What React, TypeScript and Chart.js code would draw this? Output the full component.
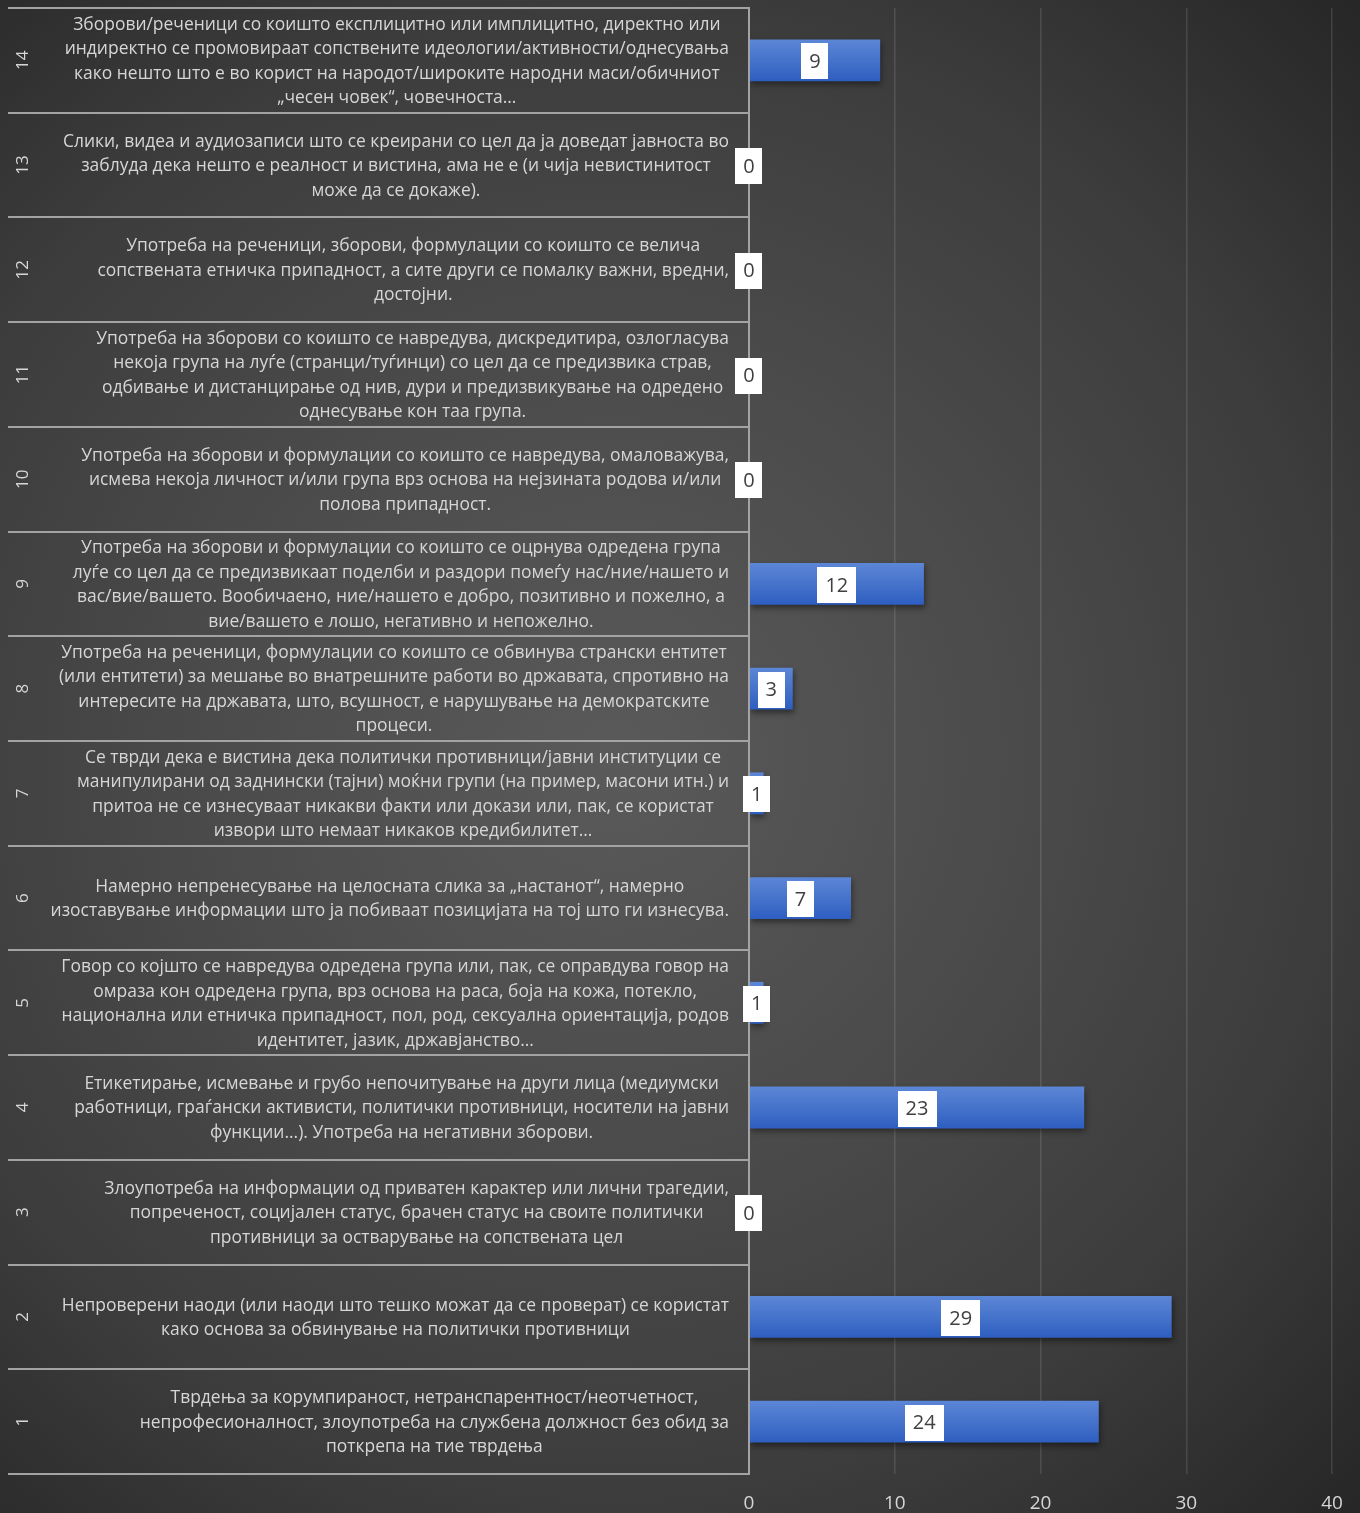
import { useEffect, useRef } from 'react';
import { Chart, registerables } from 'chart.js';

Chart.register(...registerables);

const categoryNumbers: string[] = ['1', '2', '3', '4', '5', '6', '7', '8', '9', '10', '11', '12', '13', '14'];

const categoryTexts: string[][] = [
  [
    'Тврдења за корумпираност, нетранспарентност/неотчетност,',
    'непрофесионалност, злоупотреба на службена должност без обид за',
    'поткрепа на тие тврдења',
  ],
  [
    'Непроверени наоди (или наоди што тешко можат да се проверат) се користат',
    'како основа за обвинување на политички противници',
  ],
  [
    'Злоупотреба на информации од приватен карактер или лични трагедии,',
    'попреченост, социјален статус, брачен статус на своите политички',
    'противници за остварување на сопствената цел',
  ],
  [
    'Етикетирање, исмевање и грубо непочитување на други лица (медиумски',
    'работници, граѓански активисти, политички противници, носители на јавни',
    'функции...). Употреба на негативни зборови.',
  ],
  [
    'Говор со којшто се навредува одредена група или, пак, се оправдува говор на',
    'омраза кон одредена група, врз основа на раса, боја на кожа, потекло,',
    'национална или етничка припадност, пол, род, сексуална ориентација, родов',
    'идентитет, јазик, државјанство…',
  ],
  [
    'Намерно непренесување на целосната слика за „настанот“, намерно',
    'изоставување информации што ја побиваат позицијата на тој што ги изнесува.',
  ],
  [
    'Се тврди дека е вистина дека политички противници/јавни институции се',
    'манипулирани од заднински (тајни) моќни групи (на пример, масони итн.) и',
    'притоа не се изнесуваат никакви факти или докази или, пак, се користат',
    'извори што немаат никаков кредибилитет…',
  ],
  [
    'Употреба на реченици, формулации со коишто се обвинува странски ентитет',
    '(или ентитети) за мешање во внатрешните работи во државата, спротивно на',
    'интересите на државата, што, всушност, е нарушување на демократските',
    'процеси.',
  ],
  [
    'Употреба на зборови и формулации со коишто се оцрнува одредена група',
    'луѓе со цел да се предизвикаат поделби и раздори помеѓу нас/ние/нашето и',
    'вас/вие/вашето. Вообичаено, ние/нашето е добро, позитивно и пожелно, а',
    'вие/вашето е лошо, негативно и непожелно.',
  ],
  [
    'Употреба на зборови и формулации со коишто се навредува, омаловажува,',
    'исмева некоја личност и/или група врз основа на нејзината родова и/или',
    'полова припадност.',
  ],
  [
    'Употреба на зборови со коишто се навредува, дискредитира, озлогласува',
    'некоја група на луѓе (странци/туѓинци) со цел да се предизвика страв,',
    'одбивање и дистанцирање од нив, дури и предизвикување на одредено',
    'однесување кон таа група.',
  ],
  [
    'Употреба на реченици, зборови, формулации со коишто се велича',
    'сопствената етничка припадност, а сите други се помалку важни, вредни,',
    'достојни.',
  ],
  [
    'Слики, видеа и аудиозаписи што се креирани со цел да ја доведат јавноста во',
    'заблуда дека нешто е реалност и вистина, ама не е (и чија невистинитост',
    'може да се докаже).',
  ],
  [
    'Зборови/реченици со коишто експлицитно или имплицитно, директно или',
    'индиректно се промовираат сопствените идеологии/активности/однесувања',
    'како нешто што е во корист на народот/широките народни маси/обичниот',
    '„чесен човек“, човечноста…',
  ],
];

const counts: number[] = [24, 29, 0, 23, 1, 7, 1, 3, 12, 0, 0, 0, 0, 9];

const xMin = 0;
const xMax = 40;
const xStep = 10;

const FONT = '"Open Sans", "Noto Sans", sans-serif';
const TEXT_COLOR = '#d6d6d6';
const LABEL_FONT_SIZE = 17.45;
const LABEL_LINE_HEIGHT = 24.5;

// Category text labels: each block is right-aligned against the axis, lines centred inside the block
const categoryTextPlugin = {
  id: 'categoryText',
  afterDraw(chart: any) {
    const { ctx, chartArea } = chart;
    const ys = chart.scales.y;
    ctx.save();
    ctx.font = `${LABEL_FONT_SIZE}px ${FONT}`;
    ctx.fillStyle = TEXT_COLOR;
    ctx.textAlign = 'center';
    ctx.textBaseline = 'middle';
    const rightEdge = chartArea.left - 20;
    categoryTexts.forEach((lines, i) => {
      const cy = ys.getPixelForValue(i);
      let w = 0;
      for (const l of lines) w = Math.max(w, ctx.measureText(l).width);
      const cx = rightEdge - w / 2;
      const n = lines.length;
      lines.forEach((l, k) => {
        ctx.fillText(l, cx, cy + (k - (n - 1) / 2) * LABEL_LINE_HEIGHT + 1);
      });
    });
    ctx.restore();
  },
};

const sectionPlugin = {
  id: 'sectionLines',
  afterDraw(chart: any) {
    const { ctx, chartArea } = chart;
    const ys = chart.scales.y;
    const n = categoryNumbers.length;
    const pix: number[] = [];
    for (let i = 0; i < n; i++) pix.push(ys.getPixelForValue(i));
    pix.sort((a, b) => a - b);
    const bounds: number[] = [chartArea.top];
    for (let i = 0; i < n - 1; i++) bounds.push((pix[i] + pix[i + 1]) / 2);
    bounds.push(chartArea.bottom);
    ctx.save();
    ctx.strokeStyle = '#a3a3a3';
    ctx.lineWidth = 2;
    ctx.beginPath();
    for (const b of bounds) {
      const yy = Math.round(b);
      ctx.moveTo(8, yy);
      ctx.lineTo(chartArea.left, yy);
    }
    ctx.moveTo(chartArea.left, chartArea.top - 1);
    ctx.lineTo(chartArea.left, chartArea.bottom + 1);
    ctx.stroke();
    ctx.restore();
  },
};

const shadowPlugin = {
  id: 'barShadow',
  beforeDatasetsDraw(chart: any) {
    const ctx = chart.ctx;
    ctx.save();
    ctx.shadowColor = 'rgba(0,0,0,0.45)';
    ctx.shadowBlur = 6;
    ctx.shadowOffsetX = 1;
    ctx.shadowOffsetY = 3;
  },
  afterDatasetsDraw(chart: any) {
    chart.ctx.restore();
  },
};

const valueLabelPlugin = {
  id: 'valueLabels',
  afterDraw(chart: any) {
    const ctx = chart.ctx;
    const meta = chart.getDatasetMeta(0);
    ctx.save();
    ctx.font = `20px ${FONT}`;
    ctx.textAlign = 'center';
    ctx.textBaseline = 'middle';
    meta.data.forEach((bar: any, i: number) => {
      const text = String(counts[i]);
      const cx = (bar.x + bar.base) / 2;
      const cy = bar.y;
      const w = ctx.measureText(text).width + 16;
      const h = 36;
      ctx.fillStyle = '#ffffff';
      ctx.fillRect(Math.round(cx - w / 2), Math.round(cy - h / 2) + 1, Math.round(w), h);
      ctx.fillStyle = '#404040';
      ctx.fillText(text, cx, cy + 2);
    });
    ctx.restore();
  },
};

const zeroPad = (s: any) => {
  s.paddingTop = 0;
  s.paddingBottom = 0;
};

export default function App() {
  const canvasRef = useRef<HTMLCanvasElement | null>(null);

  useEffect(() => {
    const canvas = canvasRef.current;
    if (!canvas) return;
    const chart = new Chart(canvas, {
      type: 'bar',
      data: {
        labels: categoryNumbers,
        datasets: [
          {
            data: counts,
            yAxisID: 'y',
            xAxisID: 'x',
            categoryPercentage: 1,
            barPercentage: 0.4,
            borderWidth: 0,
            backgroundColor: (c: any) => {
              const ch = c.chart;
              const ys = ch.scales && ch.scales.y;
              if (c.type !== 'data' || !ys) return '#4472c4';
              const y = ys.getPixelForValue(c.dataIndex);
              const half = (ys.height / categoryNumbers.length) * 0.2;
              if (!isFinite(y) || !isFinite(half) || half <= 0) return '#4472c4';
              const g = ch.ctx.createLinearGradient(0, y - half, 0, y + half);
              g.addColorStop(0, '#5c86d6');
              g.addColorStop(0.5, '#4673cb');
              g.addColorStop(1, '#2d5ec0');
              return g;
            },
          },
        ],
      },
      options: {
        indexAxis: 'y',
        responsive: false,
        animation: false,
        devicePixelRatio: 1,
        layout: { padding: { left: 8, top: 8, right: 28, bottom: 0 } },
        plugins: {
          legend: { display: false },
          tooltip: { enabled: false },
        },
        scales: {
          x: {
            type: 'linear',
            position: 'bottom',
            min: xMin,
            max: xMax,
            ticks: {
              stepSize: xStep,
              color: TEXT_COLOR,
              font: { family: FONT, size: 19 },
              padding: 18,
            },
            grid: {
              color: 'rgba(255,255,255,0.12)',
              lineWidth: 1.5,
              drawTicks: false,
            },
            border: { display: false },
            afterFit: (s: any) => {
              s.height = 39;
              s.paddingLeft = 0;
              s.paddingRight = 0;
            },
          },
          y: {
            type: 'category',
            position: 'left',
            reverse: true,
            weight: 0,
            grid: { display: false, drawTicks: false },
            border: { display: false },
            ticks: { display: false, autoSkip: false },
            afterFit: (s: any) => {
              s.width = 709;
              zeroPad(s);
            },
          },
          yNum: {
            type: 'category',
            position: 'left',
            reverse: true,
            weight: 1,
            labels: categoryNumbers,
            grid: { display: false, drawTicks: false },
            border: { display: false },
            ticks: {
              autoSkip: false,
              crossAlign: 'center',
              minRotation: 90,
              maxRotation: 90,
              padding: 7,
              color: TEXT_COLOR,
              font: { family: FONT, size: 17 },
            },
            afterFit: (s: any) => {
              s.width = 32;
              zeroPad(s);
            },
          },
        },
      },
      plugins: [shadowPlugin, categoryTextPlugin, sectionPlugin, valueLabelPlugin],
    } as any);
    return () => {
      chart.destroy();
    };
  }, []);

  return (
    <div
      style={{
        position: 'absolute',
        left: 0,
        top: 0,
        width: 1360,
        height: 1513,
        overflow: 'hidden',
        background:
          'radial-gradient(ellipse farthest-corner at 45% 50%, #5a5a5a 0%, #4a4a4a 40%, #3c3c3c 70%, #262626 100%)',
      }}
    >
      <canvas ref={canvasRef} width={1360} height={1513} style={{ display: 'block', width: 1360, height: 1513 }} />
    </div>
  );
}
